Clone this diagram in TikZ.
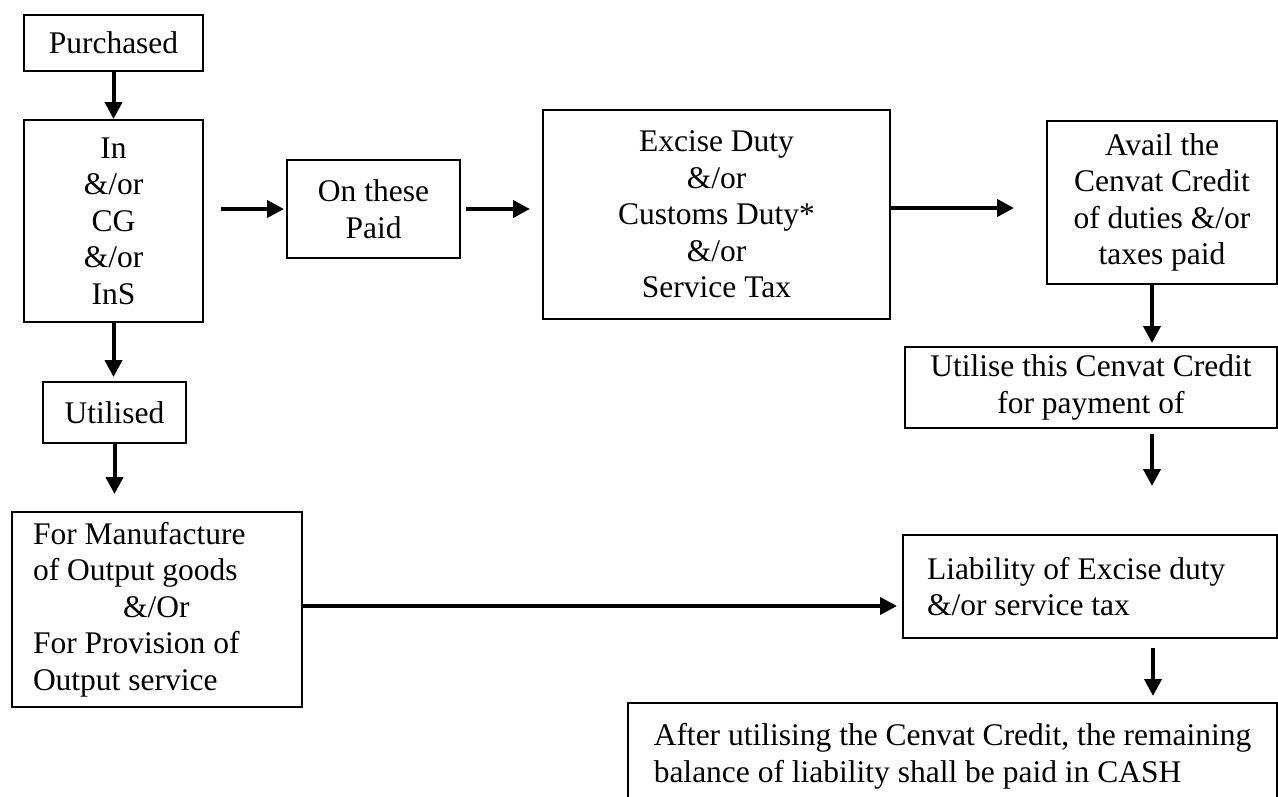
\documentclass[tikz,border=0pt]{standalone}
\usepackage{fontspec}
\setmainfont{Liberation Serif}
\usetikzlibrary{arrows.meta}
\begin{document}
\begin{tikzpicture}[x=1pt,y=-1pt,
  box/.style={draw, line width=2pt, inner sep=0pt, align=center,
    font=\fontsize{31.5}{36.5}\selectfont},
  arr/.style={line width=4pt, -{Triangle[length=17pt,width=17pt]}}]
  \useasboundingbox (0,0) rectangle (1278,796);
  % left column
  \node[box, minimum width=179pt, minimum height=56pt] (pur) at (113.5,43) {Purchased};
  \node[box, minimum width=179pt, minimum height=202pt] (inb) at (113.5,221)
    {In\\\&/or\\CG\\\&/or\\InS};
  \node[box, minimum width=143pt, minimum height=61pt] (util) at (114.5,412.5) {Utilised};
  \node[box, minimum width=290pt, minimum height=195pt, text width=248pt, align=flush left]
    (manu) at (157,609.5)
    {For Manufacture\\of Output goods\\\hspace*{90pt}\&/Or\\For Provision of\\Output service};
  % top row
  \node[box, minimum width=173pt, minimum height=98pt] (paid) at (373.5,209) {On these\\Paid};
  \node[box, minimum width=347pt, minimum height=209pt] (excise) at (716.5,214.5)
    {Excise Duty\\\&/or\\Customs Duty*\\\&/or\\Service Tax};
  \node[box, minimum width=230pt, minimum height=163pt] (avail) at (1162,202.5)
    {Avail the\\Cenvat Credit\\of duties \&/or\\taxes paid};
  % right column
  \node[box, minimum width=372pt, minimum height=81pt] (utilise) at (1091,387.5)
    {Utilise this Cenvat Credit\\for payment of};
  \node[box, minimum width=374pt, minimum height=103pt, text width=326pt, align=flush left]
    (liab) at (1090,586.5) {Liability of Excise duty\\\&/or service tax};
  \node[box, minimum width=649pt, minimum height=107pt, align=left] (cash) at (952.5,756.5)
    {After utilising the Cenvat Credit, the remaining\\balance of liability shall be paid in CASH};
  % arrows
  \draw[arr] (pur.south) -- (inb.north);
  \draw[arr, shorten >=4pt] (inb.south) -- (inb.south |- util.north);
  \draw[arr, shorten >=17pt] (util.south) -- (util.south |- manu.north);
  \draw[arr, shorten <=17pt, shorten >=2pt] (inb.east |- paid.west) -- (paid.west);
  \draw[arr, shorten <=5pt, shorten >=12pt] (paid.east) -- (paid.east -| excise.west);
  \draw[arr, shorten >=32pt] ([yshift=6.5pt]excise.east) -- ([yshift=6.5pt]excise.east -| avail.west);
  \draw[arr, shorten >=3pt] ([xshift=-10pt]avail.south) -- ([xshift=-10pt]avail.south |- utilise.north);
  \draw[arr, shorten <=5pt, shorten >=48pt] ([xshift=-10pt]avail.south |- utilise.south)
    -- ([xshift=-10pt]avail.south |- liab.north);
  \draw[arr, shorten <=9pt, shorten >=6pt] ([xshift=-9pt]avail.south |- liab.south)
    -- ([xshift=-9pt]avail.south |- cash.north);
  \draw[arr, shorten >=5pt] ([yshift=3.5pt]manu.east) -- ([yshift=3.5pt]manu.east -| liab.west);
\end{tikzpicture}
\end{document}
